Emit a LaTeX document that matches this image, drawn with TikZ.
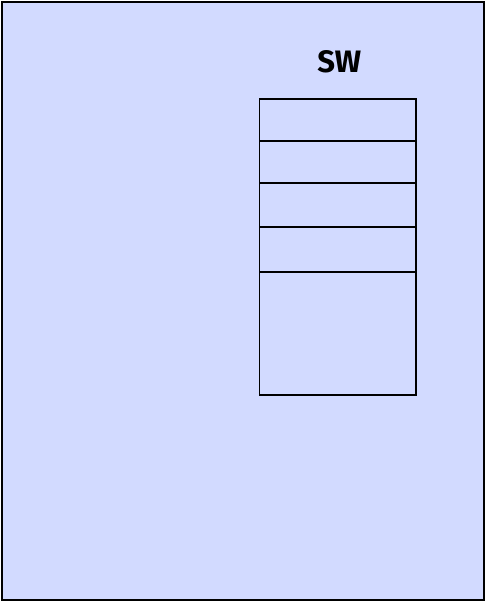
\documentclass[tikz,border=0pt]{standalone}
\usepackage{fontspec}
\usepackage{xcolor}
\usepackage{tikz}
\usetikzlibrary{positioning}
\newfontfamily\swfont{Fira Sans}
\definecolor{panelblue}{RGB}{210,218,255}

\begin{document}
\begin{tikzpicture}[
  x=1pt, y=1pt,
  frame/.style={draw=black,line width=2pt,fill=panelblue},
  cell/.style={draw,line width=1.8pt,minimum width=156.5pt,inner sep=0pt,outer sep=0pt},
  label/.style={font=\swfont\bfseries\fontsize{31}{34}\selectfont,inner sep=0pt}
]
\useasboundingbox (0,0) rectangle (485,602);
\draw[frame] (2,2) rectangle (484,600);
\node[cell,minimum height=42.5pt,anchor=north west] (slot1) at (259.5,503.3) {};
\node[cell,minimum height=42pt,below=0pt of slot1] (slot2) {};
\node[cell,minimum height=44pt,below=0pt of slot2] (slot3) {};
\node[cell,minimum height=45pt,below=0pt of slot3] (slot4) {};
\node[cell,minimum height=123pt,below=0pt of slot4] (slot5) {};
\node[label,above=25.5pt of slot1,xshift=1.5pt] (title) {SW};
\end{tikzpicture}
\end{document}
